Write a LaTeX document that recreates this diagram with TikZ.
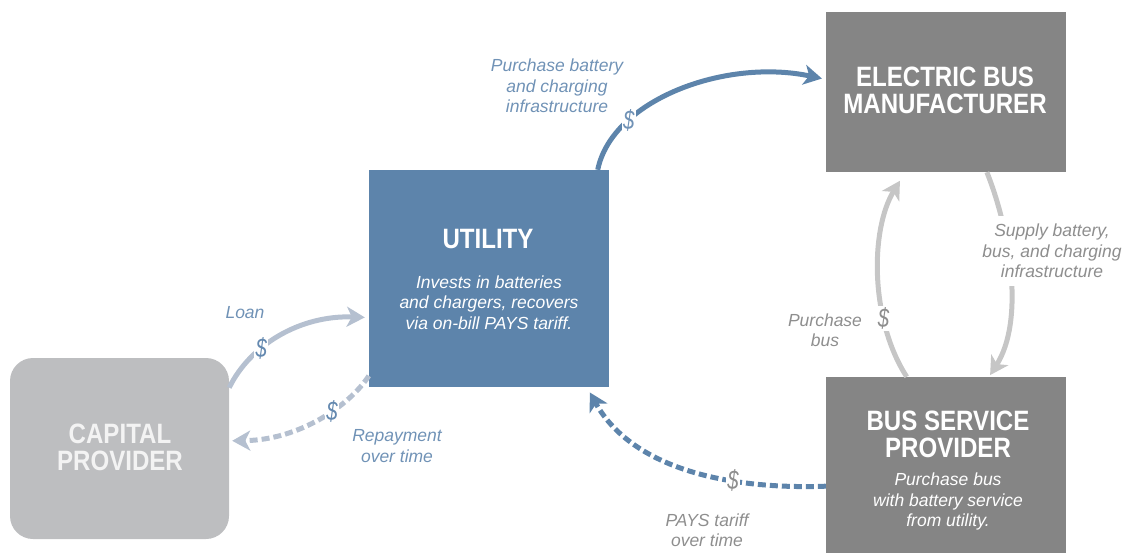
\documentclass[tikz,border=0pt]{standalone}
\usepackage{fontspec}
\setmainfont{Liberation Sans}
\newfontfamily\narrowfont{Liberation Sans}[FakeStretch=0.86]
\newfontfamily\dollarfont{Liberation Sans}[FakeStretch=0.75]
\usetikzlibrary{arrows.meta}
\definecolor{utilblue}{HTML}{5D84AB}
\definecolor{makergray}{HTML}{858585}
\definecolor{capgray}{HTML}{BDBEC0}
\definecolor{capwhite}{HTML}{F3F3F3}
\definecolor{labelblue}{HTML}{7092B6}
\definecolor{dollarblue}{HTML}{6489B0}
\definecolor{labelgray}{HTML}{8E8E8E}
\definecolor{arrowgray}{HTML}{C6C6C6}
\definecolor{loancolor}{HTML}{B5C0D0}
\begin{document}
\begin{tikzpicture}[x=1pt,y=-1pt,>={Stealth[length=18pt,width=20pt,inset=5pt]},
	box/.style={rectangle,inner sep=0pt},
	headline/.style={font=\narrowfont\bfseries\fontsize{28}{27}\selectfont,align=center},
	desc/.style={font=\itshape\fontsize{17.5}{20.5}\selectfont,align=center},
	dollar/.style={font=\dollarfont\itshape\fontsize{27}{27}\selectfont,fill=white,inner sep=1.5pt},
	flow/.style={line width=5pt,->},
	dashflow/.style={flow,dash pattern=on 8pt off 4pt}]
	\useasboundingbox (0,0) rectangle (1126,553);
	% boxes
	\node (utility) at (489,278.5) [box,fill=utilblue,minimum width=240pt,minimum height=217pt] {};
	\node (maker) at (946,92) [box,fill=makergray,minimum width=240pt,minimum height=160pt] {};
	\node (bsp) at (946,465) [box,fill=makergray,minimum width=240pt,minimum height=176pt] {};
	\node (capital) at (119.5,448.5) [box,fill=capgray,rounded corners=23pt,minimum width=219pt,minimum height=181pt] {};
	\node (utilitytitle) at (488,248) [headline,white,anchor=base] {UTILITY};
	\node (utilitytext) at (489,302.5) [desc,white] {Invests in batteries\\and chargers, recovers\\via on-bill PAYS tariff.};
	\node (makertitle) at (945,90) [headline,white] {ELECTRIC BUS\\MANUFACTURER};
	\node (bsptitle) at (948,434.5) [headline,white] {BUS SERVICE\\PROVIDER};
	\node (bsptext) at (948,501.5) [desc,white] {Purchase bus\\with battery service\\from utility.};
	\node (capitaltitle) at (120,447.5) [headline,capwhite] {CAPITAL\\PROVIDER};
	% flows
	\draw[flow,utilblue,shorten >=4pt] (utility.45.5) .. controls (612,100) and (725,58) .. (maker.174)
		node[dollar,pos=0.27,text=labelblue] (buydollar) {\$};
	\draw[flow,arrowgray,shorten >=2pt] (maker.-63) .. controls (1010,230) and (1025,320) .. (bsp.64);
	\draw[flow,arrowgray,shorten >=10pt] (bsp.114) .. controls (870,320) and (870,230) .. (maker.-117)
		node[dollar,pos=0.3,text=labelgray] (busdollar) {\$};
	\draw[dashflow,utilblue,shorten >=6pt] (bsp.190) .. controls (720,490) and (630,465) .. (utility.-48)
		node[dollar,pos=0.31,text=labelgray] (tariffdollar) {\$};
	\draw[flow,loancolor,shorten >=4pt] (capital.29.5) .. controls (250,345) and (300,315) .. (utility.198)
		node[dollar,pos=0.35,text=dollarblue] (loandollar) {\$};
	\draw[dashflow,loancolor,shorten >=3pt] (utility.219) .. controls (350,405) and (300,440) .. (capital.4)
		node[dollar,pos=0.4,text=dollarblue] (repaydollar) {\$};
	% labels
	\node (buylabel) at (557,86) [desc,text=labelblue] {Purchase battery\\and charging\\infrastructure};
	\node (supplylabel) at (1052,251) [desc,text=labelgray,fill=white,inner xsep=2pt,inner ysep=8pt] {Supply battery,\\bus, and charging\\infrastructure};
	\node (buslabel) at (825,330) [desc,text=labelgray] {Purchase\\bus};
	\node (tarifflabel) at (707,530) [desc,text=labelgray] {PAYS tariff\\over time};
	\node (loanlabel) at (245,318) [desc,text=labelblue,anchor=base] {Loan};
	\node (repaylabel) at (397,446) [desc,text=labelblue] {Repayment\\over time};
\end{tikzpicture}
\end{document}
